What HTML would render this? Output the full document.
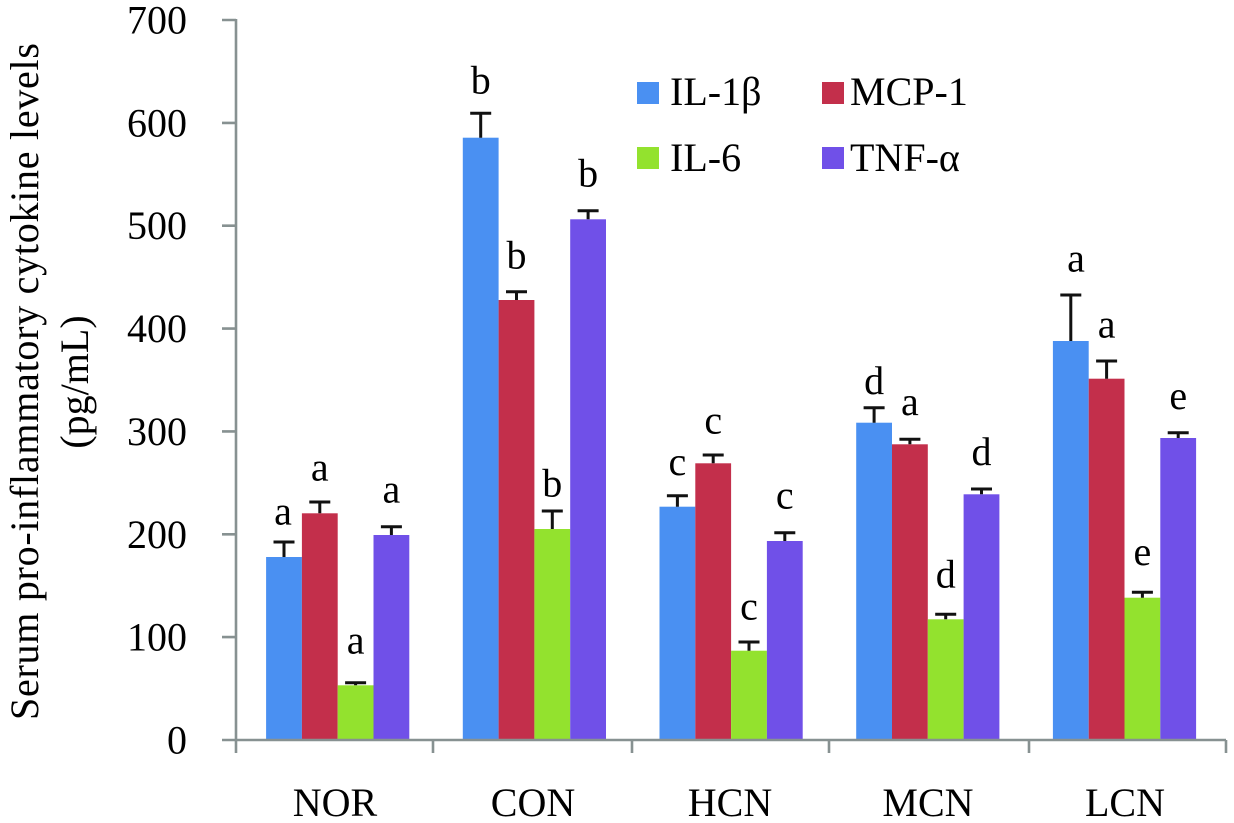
<!DOCTYPE html>
<html>
<head>
<meta charset="utf-8">
<style>
html,body{margin:0;padding:0;background:#fff;}
svg{display:block;}
text{font-family:"Liberation Serif","Times New Roman",serif;font-size:40px;fill:#000;}
</style>
</head>
<body>
<svg width="1234" height="823" viewBox="0 0 1234 823" xmlns="http://www.w3.org/2000/svg">
<rect width="1234" height="823" fill="#fff"/>

<!-- Y-axis title -->
<text transform="translate(38,381.5) rotate(-90)" text-anchor="middle" textLength="677" lengthAdjust="spacing">Serum pro-inflammatory cytokine levels</text>
<text transform="translate(88,382) rotate(-90)" text-anchor="middle">(pg/mL)</text>

<!-- Y tick labels -->
<g text-anchor="end">
<text x="187" y="33.5">700</text>
<text x="187" y="136.4">600</text>
<text x="187" y="239.2">500</text>
<text x="187" y="342.1">400</text>
<text x="187" y="444.9">300</text>
<text x="187" y="547.8">200</text>
<text x="187" y="650.6">100</text>
<text x="187" y="753.5">0</text>
</g>

<!-- Bars -->
<g id="bars">
<!-- NOR -->
<rect x="266.1" y="557" width="35.8" height="183" fill="#4A90F2"/>
<rect x="301.9" y="513.3" width="35.8" height="226.7" fill="#C32F4B"/>
<rect x="337.7" y="685.3" width="35.8" height="54.7" fill="#93E22E"/>
<rect x="373.5" y="535" width="35.8" height="205" fill="#7050E8"/>
<!-- CON -->
<rect x="462.8" y="137.7" width="35.8" height="602.3" fill="#4A90F2"/>
<rect x="498.6" y="300" width="35.8" height="440" fill="#C32F4B"/>
<rect x="534.4" y="529" width="35.8" height="211" fill="#93E22E"/>
<rect x="570.2" y="219.3" width="35.8" height="520.7" fill="#7050E8"/>
<!-- HCN -->
<rect x="659.5" y="506.7" width="35.8" height="233.3" fill="#4A90F2"/>
<rect x="695.3" y="463.3" width="35.8" height="276.7" fill="#C32F4B"/>
<rect x="731.1" y="650.7" width="35.8" height="89.3" fill="#93E22E"/>
<rect x="766.9" y="541" width="35.8" height="199" fill="#7050E8"/>
<!-- MCN -->
<rect x="856.2" y="422.7" width="35.8" height="317.3" fill="#4A90F2"/>
<rect x="892" y="444.3" width="35.8" height="295.7" fill="#C32F4B"/>
<rect x="927.8" y="619.3" width="35.8" height="120.7" fill="#93E22E"/>
<rect x="963.6" y="494.3" width="35.8" height="245.7" fill="#7050E8"/>
<!-- LCN -->
<rect x="1052.9" y="341" width="35.8" height="399" fill="#4A90F2"/>
<rect x="1088.7" y="378.7" width="35.8" height="361.3" fill="#C32F4B"/>
<rect x="1124.5" y="597.7" width="35.8" height="142.3" fill="#93E22E"/>
<rect x="1160.3" y="438" width="35.8" height="302" fill="#7050E8"/>
</g>

<!-- Error bars -->
<g stroke="#111" stroke-width="3" fill="none">
<!-- NOR -->
<path d="M284,557V542M273.5,542H294.5"/>
<path d="M319.8,513.3V502M309.3,502H330.3"/>
<path d="M355.6,685.3V682.7M345.1,682.7H366.1"/>
<path d="M391.4,535V526.7M380.9,526.7H401.9"/>
<!-- CON -->
<path d="M480.7,137.7V113.3M470.2,113.3H491.2"/>
<path d="M516.5,300V291.7M506,291.7H527"/>
<path d="M552.3,529V511M541.8,511H562.8"/>
<path d="M588.1,219.3V210.7M577.6,210.7H598.6"/>
<!-- HCN -->
<path d="M677.4,506.7V495.7M666.9,495.7H687.9"/>
<path d="M713.2,463.3V455M702.7,455H723.7"/>
<path d="M749,650.7V642M738.5,642H759.5"/>
<path d="M784.8,541V532.7M774.3,532.7H795.3"/>
<!-- MCN -->
<path d="M874.1,422.7V407.7M863.6,407.7H884.6"/>
<path d="M909.9,444.3V439.3M899.4,439.3H920.4"/>
<path d="M945.7,619.3V614.3M935.2,614.3H956.2"/>
<path d="M981.5,494.3V489M971,489H992"/>
<!-- LCN -->
<path d="M1070.8,341V295M1060.3,295H1081.3"/>
<path d="M1106.6,378.7V361M1096.1,361H1117.1"/>
<path d="M1142.4,597.7V592.3M1131.9,592.3H1152.9"/>
<path d="M1178.2,438V432.7M1167.7,432.7H1188.7"/>
</g>

<!-- Significance letters -->
<g text-anchor="middle">
<text x="283" y="524.3">a</text>
<text x="319.8" y="480.7">a</text>
<text x="355.6" y="653.3">a</text>
<text x="391.4" y="502.7">a</text>

<text x="480.7" y="93.3">b</text>
<text x="516.5" y="268.3">b</text>
<text x="552.3" y="496.7">b</text>
<text x="588.1" y="186.7">b</text>

<text x="677.4" y="475">c</text>
<text x="713.2" y="433.3">c</text>
<text x="749" y="619.3">c</text>
<text x="784.8" y="508.3">c</text>

<text x="874.1" y="394">d</text>
<text x="909.9" y="415">a</text>
<text x="945.7" y="587.7">d</text>
<text x="981.5" y="465">d</text>

<text x="1076" y="271.7">a</text>
<text x="1106.6" y="337.3">a</text>
<text x="1142.4" y="565">e</text>
<text x="1178.2" y="409">e</text>
</g>

<!-- Axes -->
<g stroke="#879191" stroke-width="2.6" fill="none">
<path d="M236,19V740H1226"/>
<path d="M222,20H236M222,122.9H236M222,225.7H236M222,328.6H236M222,431.4H236M222,534.3H236M222,637.1H236M222,740H236"/>
<path d="M236,740V753M433,740V753M632,740V753M829,740V753M1029,740V753M1226,740V753"/>
</g>

<!-- X labels -->
<g text-anchor="middle">
<text x="335" y="816">NOR</text>
<text x="533" y="816">CON</text>
<text x="730" y="816">HCN</text>
<text x="928" y="816">MCN</text>
<text x="1125" y="816">LCN</text>
</g>

<!-- Legend -->
<rect x="637" y="82" width="22" height="22" fill="#4A90F2"/>
<text x="670" y="105">IL-1β</text>
<rect x="822" y="82" width="22" height="22" fill="#C32F4B"/>
<text x="850" y="105">MCP-1</text>
<rect x="637" y="147" width="22" height="22" fill="#93E22E"/>
<text x="670" y="171">IL-6</text>
<rect x="822" y="147" width="22" height="22" fill="#7050E8"/>
<text x="850" y="171">TNF-α</text>
</svg>
</body>
</html>
